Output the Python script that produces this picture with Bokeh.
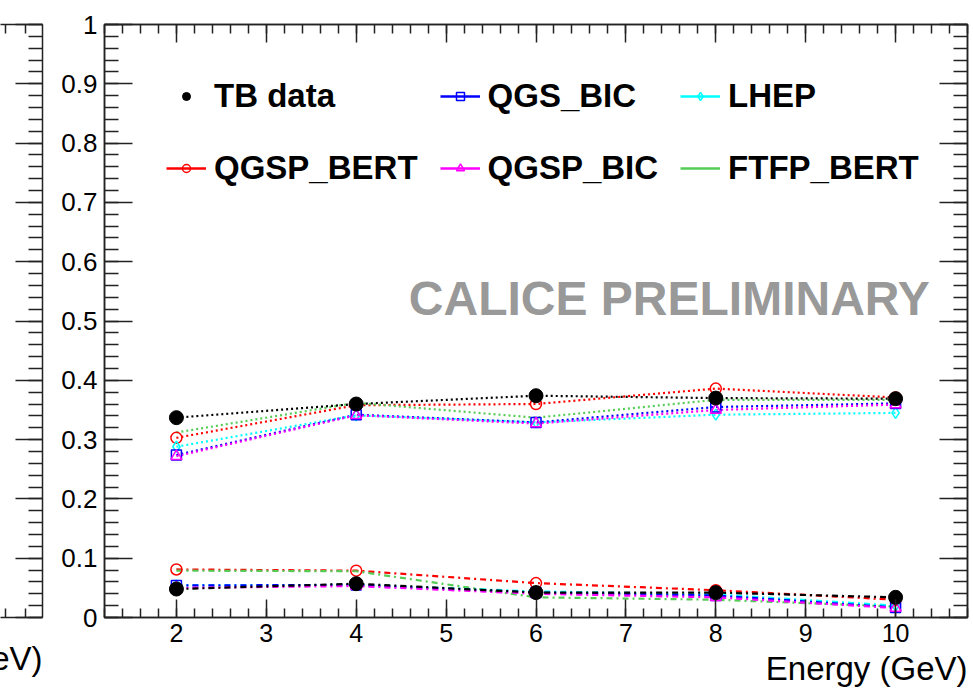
import numpy as np
from bokeh.plotting import figure
from bokeh.models import (Range1d, LinearAxis, FixedTicker, Legend, LegendItem,
                          Label, Title, ColumnDataSource)
from bokeh.layouts import row
from bokeh.embed import file_html
from bokeh.resources import INLINE

FONT = "Liberation Sans"

# ---------------- data ----------------
energy = [2, 4, 6, 8, 10]

# upper group (dotted lines)
tb_hi        = [0.337, 0.360, 0.374, 0.370, 0.369]
qgsp_bert_hi = [0.303, 0.358, 0.360, 0.386, 0.371]
qgs_bic_hi   = [0.274, 0.342, 0.329, 0.355, 0.361]
qgsp_bic_hi  = [0.272, 0.341, 0.327, 0.350, 0.359]
lhep_hi      = [0.288, 0.341, 0.329, 0.342, 0.345]
ftfp_bert_hi = [0.312, 0.362, 0.337, 0.367, 0.367]

# lower group (dash-dot lines)
tb_lo        = [0.048, 0.057, 0.042, 0.042, 0.034]
qgsp_bert_lo = [0.081, 0.079, 0.058, 0.046, 0.030]
qgs_bic_lo   = [0.054, 0.055, 0.042, 0.037, 0.017]
qgsp_bic_lo  = [0.050, 0.053, 0.040, 0.034, 0.016]
lhep_lo      = [0.054, 0.055, 0.044, 0.039, 0.020]
ftfp_bert_lo = [0.079, 0.078, 0.034, 0.030, 0.0185]

x_ticks = [2, 3, 4, 5, 6, 7, 8, 9, 10]
x_tick_labels = ["2", "3", "4", "5", "6", "7", "8", "9", "10"]
y_ticks = [0, 0.1, 0.2, 0.3, 0.4, 0.5, 0.6, 0.7, 0.8, 0.9, 1]
y_tick_labels = ["0", "0.1", "0.2", "0.3", "0.4", "0.5", "0.6", "0.7", "0.8", "0.9", "1"]
x_minor = [round(1.2 + 0.2 * i, 1) for i in range(49)]
y_minor = [round(0.02 * i, 2) for i in range(51)]

series = [
    # name, hi, lo, color, marker, size
    ("QGSP_BERT", qgsp_bert_hi, qgsp_bert_lo, "#ff0000", "circle", 11),
    ("FTFP_BERT", ftfp_bert_hi, ftfp_bert_lo, "#55cc55", None, 0),
    ("LHEP", lhep_hi, lhep_lo, "#00ffff", "diamond", 11),
    ("QGS_BIC", qgs_bic_hi, qgs_bic_lo, "#0000ff", "square", 10),
    ("QGSP_BIC", qgsp_bic_hi, qgsp_bic_lo, "#ff00ff", "triangle", 11),
]

AX = "#222222"
DOT = "2 3"
DASHDOT = "6 4 2 4"


def style_axis(ax, major_in, minor_in, label_size, standoff):
    ax.axis_line_color = AX
    ax.axis_line_width = 1.5
    ax.major_tick_line_color = AX
    ax.major_tick_line_width = 1.5
    ax.minor_tick_line_color = AX
    ax.minor_tick_line_width = 1.5
    ax.major_tick_in = major_in
    ax.major_tick_out = 0
    ax.minor_tick_in = minor_in
    ax.minor_tick_out = 0
    ax.major_label_standoff = standoff
    ax.major_label_text_font_size = label_size
    ax.major_label_text_font = FONT
    ax.major_label_text_color = "black"


def tick_only_axis(fig, side, positions, length, draw_line=True):
    """Axis carrying unlabeled ticks (drawn as 'minor' ticks so no label texts exist)."""
    ax = LinearAxis(ticker=FixedTicker(ticks=[], minor_ticks=positions))
    ax.axis_line_color = AX if draw_line else None
    ax.axis_line_width = 1.5
    ax.minor_tick_line_color = AX
    ax.minor_tick_line_width = 1.5
    ax.minor_tick_in = length
    ax.minor_tick_out = 0
    ax.major_tick_in = 0
    ax.major_tick_out = 0
    ax.major_label_standoff = 0
    fig.add_layout(ax, side)
    return ax


# ---------------- main figure ----------------
p = figure(width=925, height=696, x_range=Range1d(1.2, 10.8), y_range=Range1d(0, 1),
           output_backend="svg", toolbar_location=None,
           x_axis_location=None, y_axis_location=None,
           min_border_left=56, min_border_right=6, min_border_top=24, min_border_bottom=79)
p.xgrid.visible = False
p.ygrid.visible = False
p.outline_line_color = AX
p.outline_line_width = 1.5
p.background_fill_color = "white"
p.border_fill_color = "white"

xt = FixedTicker(ticks=x_ticks, minor_ticks=x_minor)
yt = FixedTicker(ticks=y_ticks, minor_ticks=y_minor)

ax_b = LinearAxis(ticker=xt)
style_axis(ax_b, 18, 9, "25px", 6)
ax_b.major_label_overrides = {t: l for t, l in zip(x_ticks, x_tick_labels)}
p.add_layout(ax_b, "below")
p.add_layout(Title(text="Energy (GeV)", align="right", text_font=FONT,
                   text_font_size="33px", text_font_style="normal",
                   text_color="black", standoff=7), "below")

ax_l = LinearAxis(ticker=yt)
style_axis(ax_l, 28, 14, "26px", 7)
ax_l.major_label_overrides = {t: l for t, l in zip(y_ticks, y_tick_labels)}
p.add_layout(ax_l, "left")

tick_only_axis(p, "above", x_ticks, 18)
tick_only_axis(p, "above", x_minor, 9, draw_line=False)
tick_only_axis(p, "right", y_ticks, 28)
tick_only_axis(p, "right", y_minor, 14, draw_line=False)

for name, hi, lo, color, marker, size in series:
    src_hi = ColumnDataSource(dict(x=energy, y=hi))
    src_lo = ColumnDataSource(dict(x=energy, y=lo))
    p.line("x", "y", source=src_hi, line_color=color, line_width=2.2, line_dash=DOT)
    p.line("x", "y", source=src_lo, line_color=color, line_width=2.2, line_dash=DASHDOT)
for name, hi, lo, color, marker, size in series:
    if marker is None:
        continue
    for vals in (hi, lo):
        src = ColumnDataSource(dict(x=energy, y=vals))
        p.scatter("x", "y", source=src, marker=marker, size=size, line_color=color,
                  line_width=1.5, fill_color=None)

# TB data on top
p.line(energy, tb_hi, line_color="black", line_width=2.2, line_dash=DOT)
p.line(energy, tb_lo, line_color="black", line_width=2.2, line_dash=DASHDOT)
p.scatter(energy, tb_hi, marker="circle", size=14, fill_color="black", line_color="black")
p.scatter(energy, tb_lo, marker="circle", size=14, fill_color="black", line_color="black")

# legend-only renderers (solid line samples; NaN data so nothing is drawn in the plot)
nan = float("nan")
leg_r = {}
for name, hi, lo, color, marker, size in series:
    rs = [p.line(x=[nan], y=[nan], line_color=color, line_width=2.5)]
    if marker is not None:
        rs.append(p.scatter(x=[nan], y=[nan], marker=marker, size=8, line_color=color,
                            line_width=1.5, fill_color=None))
    leg_r[name] = rs
tb_leg = p.scatter(x=[nan], y=[nan], marker="circle", size=12,
                   fill_color="black", line_color="black")

items = [
    LegendItem(label="TB data", renderers=[tb_leg]),
    LegendItem(label="QGS_BIC", renderers=leg_r["QGS_BIC"]),
    LegendItem(label="LHEP", renderers=leg_r["LHEP"]),
    LegendItem(label="QGSP_BERT", renderers=leg_r["QGSP_BERT"]),
    LegendItem(label="QGSP_BIC", renderers=leg_r["QGSP_BIC"]),
    LegendItem(label="FTFP_BERT", renderers=leg_r["FTFP_BERT"]),
]
legend = Legend(items=items, location=(62, 424), orientation="horizontal", ncols=3,
                glyph_width=40, glyph_height=20, label_standoff=8, label_height=50,
                spacing=22, padding=0, margin=0,
                label_text_font=FONT, label_text_font_size="33px",
                label_text_font_style="bold", label_text_color="black",
                border_line_alpha=0, background_fill_alpha=0)
p.add_layout(legend)

p.add_layout(Label(x=10.38, y=0.538, text="CALICE PRELIMINARY", text_align="right",
                   text_baseline="middle", text_font=FONT, text_font_size="48px",
                   text_font_style="bold", text_color="#999999"))

# ---------------- left (neighbouring) figure, mostly off-page ----------------
pl = figure(width=48, height=696, x_range=Range1d(0, 1), y_range=Range1d(0, 1),
            output_backend="svg", toolbar_location=None,
            x_axis_location=None, y_axis_location=None,
            min_border_left=0, min_border_right=6, min_border_top=17, min_border_bottom=79)
pl.xgrid.visible = False
pl.ygrid.visible = False
pl.outline_line_color = None
pl.border_fill_color = "white"

tick_only_axis(pl, "below", [0.12, 0.6], 9)
tick_only_axis(pl, "above", [0.12, 0.6], 9)
tick_only_axis(pl, "right", y_ticks, 27)
tick_only_axis(pl, "right", y_minor, 14, draw_line=False)
pl.add_layout(Title(text="Energy (GeV)", align="right", text_font=FONT,
                    text_font_size="33px", text_font_style="normal",
                    text_color="black", standoff=40), "below")

layout = row(pl, p)
open("out.html", "w").write(file_html(layout, INLINE))
